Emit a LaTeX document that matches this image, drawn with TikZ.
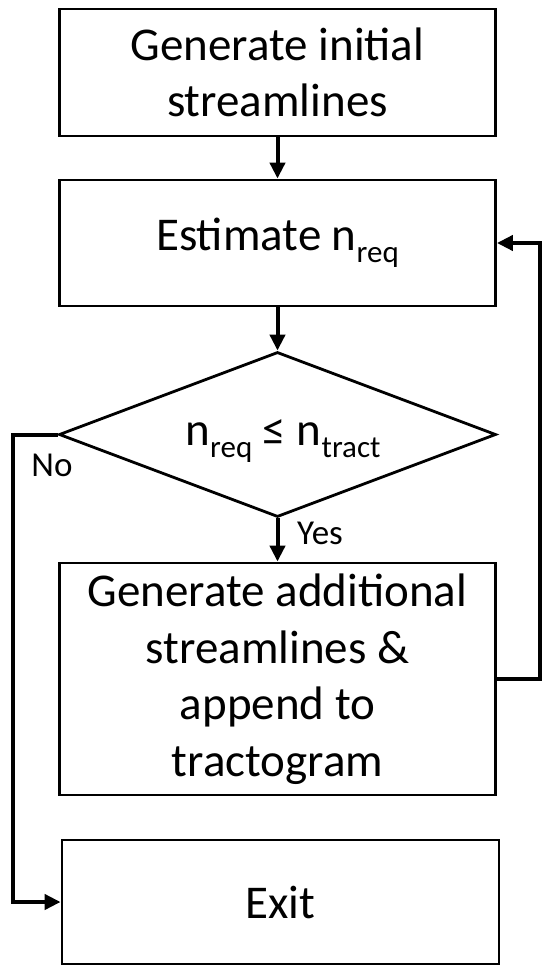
\documentclass[tikz,border=0pt]{standalone}
\usepackage{fontspec}
\setmainfont{Carlito}
\usetikzlibrary{shapes.geometric,arrows.meta}
\newcommand\lowsub[1]{\raisebox{-12.5pt}{\fontsize{31pt}{31pt}\selectfont #1}}
\begin{document}
\begin{tikzpicture}[x=1pt,y=-1pt,
  box/.style={draw=black,line width=2.8pt,minimum width=436pt,inner sep=0pt,align=center,
    font=\fontsize{47pt}{56.5pt}\selectfont},
  decision/.style={draw=black,line width=2.8pt,shape=diamond,aspect=2.65,inner sep=0pt,
    minimum width=437pt,minimum height=165pt},
  conn/.style={line width=4pt,-{Triangle[length=16pt,width=15pt]}},
  lbl/.style={font=\fontsize{35pt}{40pt}\selectfont,inner sep=0pt}]
\useasboundingbox (0,0) rectangle (541,965);
\node[box,minimum height=127pt] (b1) at (277.5,72.5) {Generate initial\\streamlines};
\node[box,minimum height=126pt] (b2) at (277.5,243) {Estimate n\lowsub{req}};
\node[decision] (d) at (277.5,434.5) {};
\node[inner sep=0pt,font=\fontsize{47pt}{56pt}\selectfont] (dt) at (283,441) {n\lowsub{req} ≤ n\lowsub{tract}};
\node[box,minimum height=232pt] (b3) at (277.5,679) {Generate additional\\streamlines \&\\append to\\tractogram};
\node[box,minimum width=437pt,minimum height=124pt] (ex) at (280.5,902) {Exit};
\draw[conn] (b1.south) -- (b2.north);
\draw[conn] (b2.south) -- (d.north);
\draw[conn] (d.south) -- (b3.north);
\coordinate (nl) at (13,434.5);
\draw[conn] (d.west) -- (nl) |- (ex.west);
\coordinate (fr) at (540,679);
\draw[conn] (b3.east) -- (fr) |- (b2.east);
\node[lbl,anchor=west] (yes) at (297,533) {Yes};
\node[lbl] (no) at (52,465) {No};
\end{tikzpicture}
\end{document}
